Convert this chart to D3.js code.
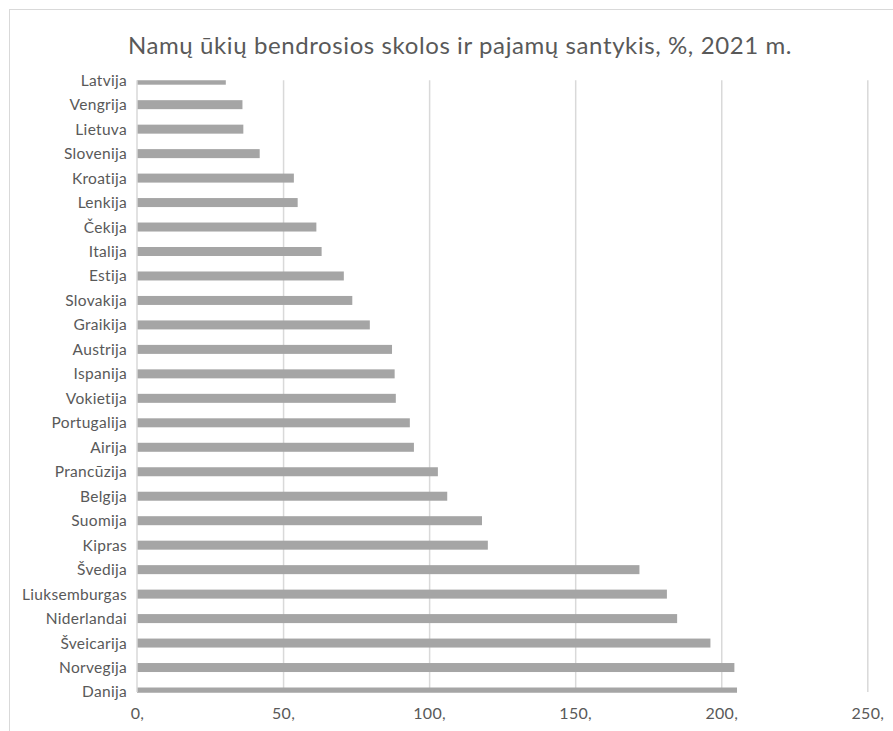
<!DOCTYPE html>
<html>
<head>
<meta charset="utf-8">
<script src="https://cdn.jsdelivr.net/npm/d3@7"></script>
<style>
  html, body { margin: 0; padding: 0; background: #fff; }
  svg { display: block; }
  text { font-family: Lato, "Open Sans", sans-serif; fill: #595959; }
</style>
</head>
<body>
<script>
// Household debt-to-income ratio, %, 2021
const categories = [
  "Latvija", "Vengrija", "Lietuva", "Slovenija", "Kroatija", "Lenkija",
  "Čekija", "Italija", "Estija", "Slovakija", "Graikija", "Austrija",
  "Ispanija", "Vokietija", "Portugalija", "Airija", "Prancūzija", "Belgija",
  "Suomija", "Kipras", "Švedija", "Liuksemburgas", "Niderlandai",
  "Šveicarija", "Norvegija", "Danija"
];
const values = [
  30.4, 36.1, 36.4, 42.0, 53.7, 55.0,
  61.4, 63.2, 70.8, 73.7, 79.7, 87.3,
  88.2, 88.6, 93.4, 94.8, 103.0, 106.2,
  118.1, 120.1, 172.0, 181.4, 184.9,
  196.3, 204.5, 205.4
];
const xTicks = [0, 50, 100, 150, 200, 250];
const xTickLabels = ["0,", "50,", "100,", "150,", "200,", "250,"];
const title = "Namų ūkių bendrosios skolos ir pajamų santykis, %, 2021 m.";

const W = 893, H = 731;
const plot = { left: 137, right: 867.3, top: 80.2, bottom: 692 };

const svg = d3.select("body").append("svg")
  .attr("width", W).attr("height", H);

// chart frame
svg.append("rect")
  .attr("x", 9.5).attr("y", 9.5)
  .attr("width", 1000).attr("height", 1000)
  .attr("fill", "#fff").attr("stroke", "#d9d9d9");

svg.append("text")
  .attr("x", 460).attr("y", 54)
  .attr("text-anchor", "middle")
  .style("font-size", "24px")
  .style("letter-spacing", "0.6px")
  .text(title);

const x = d3.scaleLinear().domain([0, 250]).range([plot.left, plot.right]);
const y = d3.scalePoint().domain(categories).range([plot.top, plot.bottom]);

// vertical gridlines
const grid = svg.append("g")
  .attr("transform", `translate(0,${plot.bottom})`)
  .call(d3.axisBottom(x).tickValues(xTicks.slice(1))
    .tickSize(-(plot.bottom - plot.top)).tickFormat(""));
grid.select(".domain").remove();
grid.selectAll("line").attr("stroke", "#d9d9d9").attr("stroke-width", 1.5);

// clip: bars on the first and last category sit on the plot edge
svg.append("defs").append("clipPath").attr("id", "plotClip")
  .append("rect")
  .attr("x", plot.left).attr("y", plot.top)
  .attr("width", plot.right - plot.left)
  .attr("height", plot.bottom - plot.top + 0.7);

const barH = 9;
svg.append("g").attr("clip-path", "url(#plotClip)")
  .selectAll("rect").data(categories).join("rect")
  .attr("x", x(0))
  .attr("y", (d) => y(d) - barH / 2)
  .attr("width", (d, i) => x(values[i]) - x(0))
  .attr("height", barH)
  .attr("fill", "#a5a5a5");

// value axis line at zero
svg.append("line")
  .attr("x1", x(0)).attr("x2", x(0))
  .attr("y1", plot.top).attr("y2", plot.bottom)
  .attr("stroke", "#d9d9d9").attr("stroke-width", 1.5);

// category labels
const yAxis = svg.append("g")
  .attr("transform", `translate(${plot.left},0)`)
  .call(d3.axisLeft(y).tickSize(0).tickPadding(10));
yAxis.select(".domain").remove();
yAxis.selectAll("text")
  .style("font-size", "15.5px")
  .style("letter-spacing", "0.3px")
  .style("font-family", "Lato, 'Open Sans', sans-serif")
  .attr("fill", "#595959");

// value labels
const xAxis = svg.append("g")
  .attr("transform", `translate(0,${plot.bottom})`)
  .call(d3.axisBottom(x).tickValues(xTicks).tickSize(0).tickPadding(16)
    .tickFormat((d, i) => xTickLabels[i]));
xAxis.select(".domain").remove();
xAxis.selectAll("text")
  .style("font-size", "16px")
  .style("letter-spacing", "0.3px")
  .style("font-family", "Lato, 'Open Sans', sans-serif")
  .attr("fill", "#595959");
</script>
</body>
</html>
